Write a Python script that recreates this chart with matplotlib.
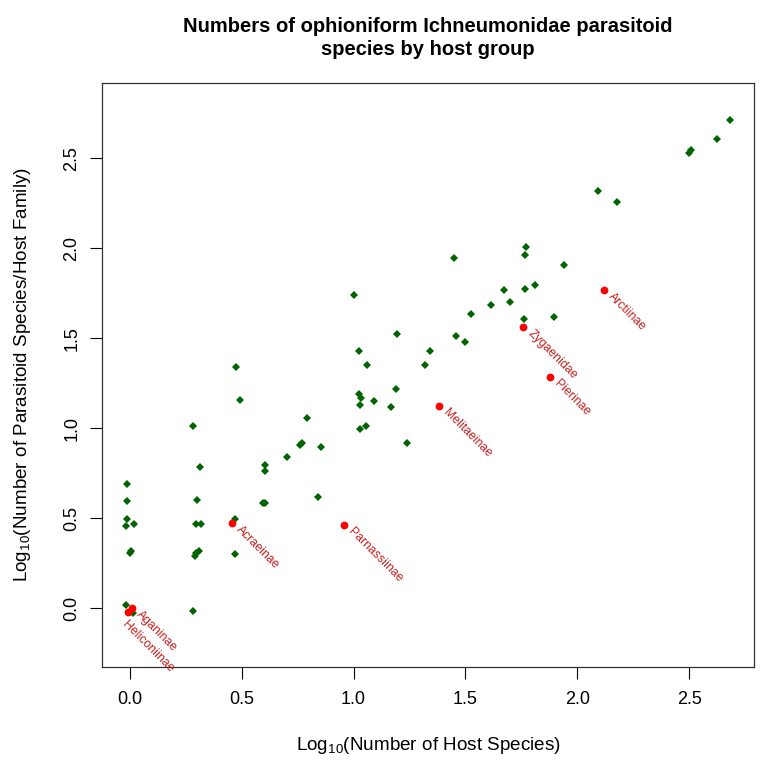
import numpy as np
import matplotlib.pyplot as plt

plt.rcParams['font.family'] = ['Liberation Sans', 'DejaVu Sans']
plt.rcParams['mathtext.default'] = 'regular'

# other host groups (log10 host species, log10 parasitoid species / host family)
host_x = [-0.012, -0.012, -0.012, -0.019, 0.017, 0.001, 0.006, -0.018, 0.015,
          0.313, 0.300, 0.294, 0.317, 0.308, 0.294, 0.289, 0.283, 0.283,
          0.468, 0.469, 0.595, 0.603, 0.602, 0.602, 0.702, 0.760, 0.768,
          0.842, 0.854, 0.472, 0.493, 0.793, 1.001, 1.024, 1.062, 1.195,
          1.022, 1.034, 1.030, 1.092, 1.188, 1.167, 1.030, 1.056, 1.240,
          1.343, 1.317, 1.457, 1.496, 1.523, 1.612, 1.697, 1.672, 1.764,
          1.810, 1.763, 1.895, 1.448, 1.770, 1.766, 1.940, 2.092, 2.176,
          2.500, 2.509, 2.625, 2.683]
host_y = [0.689, 0.594, 0.496, 0.459, 0.468, 0.307, 0.318, 0.017, -0.024,
          0.787, 0.600, 0.467, 0.467, 0.320, 0.309, 0.290, -0.013, 1.013,
          0.496, 0.303, 0.583, 0.587, 0.794, 0.763, 0.842, 0.907, 0.917,
          0.617, 0.896, 1.339, 1.157, 1.059, 1.741, 1.431, 1.350, 1.522,
          1.191, 1.167, 1.131, 1.152, 1.217, 1.117, 0.996, 1.011, 0.917,
          1.431, 1.352, 1.515, 1.478, 1.633, 1.685, 1.700, 1.765, 1.772,
          1.794, 1.605, 1.617, 1.944, 2.006, 1.964, 1.906, 2.320, 2.259,
          2.526, 2.544, 2.609, 2.711]

# highlighted lepidopteran groups
hl_names = ['Heliconiinae', 'Aganinae', 'Acraeinae', 'Parnassiinae',
            'Melitaeinae', 'Zygaenidae', 'Pierinae', 'Arctiinae']
hl_x = [-0.008, 0.010, 0.457, 0.958, 1.381, 1.758, 1.879, 2.118]
hl_y = [-0.022, 0.000, 0.474, 0.465, 1.126, 1.565, 1.285, 1.765]

ticks = [0.0, 0.5, 1.0, 1.5, 2.0, 2.5]
tick_labels = ['0.0', '0.5', '1.0', '1.5', '2.0', '2.5']

fig = plt.figure(figsize=(7.6, 7.6), dpi=100)
ax = fig.add_axes([0.1342, 0.1224, 0.8579, 0.769])

ax.plot(host_x, host_y, 'D', color='#006400', ms=3.8, mew=0, linestyle='none')
ax.plot(hl_x, hl_y, 'o', color='#ff0000', ms=5.6, mew=0, linestyle='none')

for name, x, y in zip(hl_names, hl_x, hl_y):
    off = (4.5, -3.5)
    if name == 'Heliconiinae':
        off = (-3, -7.5)
    ax.annotate(name, (x, y), xytext=off, textcoords='offset points',
                rotation=-45, rotation_mode='anchor', ha='left', va='center',
                fontsize=8.8, color='#c81e1e', annotation_clip=False)

ax.set_xlim(-0.125, 2.79)
ax.set_ylim(-0.326, 2.92)
ax.set_xticks(ticks)
ax.set_yticks(ticks)
ax.set_xticklabels(tick_labels)
ax.set_yticklabels(tick_labels, rotation=90, va='center')
ax.tick_params(direction='out', length=8.5, width=0.8, labelsize=13)
ax.tick_params(axis='x', pad=9)
ax.tick_params(axis='y', pad=7)
for s in ax.spines.values():
    s.set_linewidth(0.9)
    s.set_color('#333333')

ax.set_xlabel('Log$_{10}$(Number of Host Species)', fontsize=13.6, labelpad=19)
ax.set_ylabel('Log$_{10}$(Number of Parasitoid Species/Host Family)', fontsize=13.6, labelpad=22)
ax.set_title('Numbers of ophioniform Ichneumonidae parasitoid\nspecies by host group',
             fontsize=14.5, fontweight='bold', pad=20, linespacing=1.25)

fig.savefig('out.png', dpi=100)
